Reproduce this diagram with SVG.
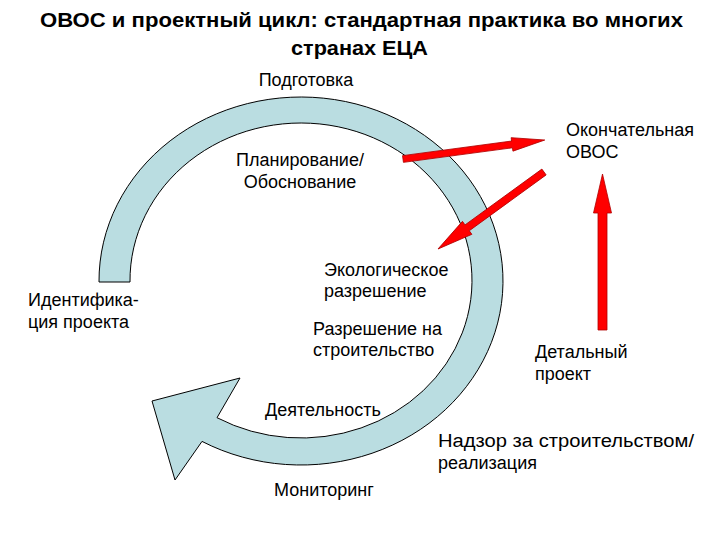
<svg xmlns="http://www.w3.org/2000/svg" width="720" height="540" viewBox="0 0 720 540">
<style>
.t{font-family:"Liberation Sans",Arial,sans-serif;font-size:18px;fill:#000}
.title{font-family:"Liberation Sans",Arial,sans-serif;font-size:20px;font-weight:bold;fill:#000;text-anchor:middle}
.ring{fill:#BADDE1;stroke:#000;stroke-width:1}
.red{fill:#FF0000;stroke:#B00000;stroke-width:0.8}
</style>
<rect width="720" height="540" fill="#FFFFFF"/>
<g id="title">
<text class="title" x="361.5" y="27" textLength="643" lengthAdjust="spacingAndGlyphs">ОВОС и проектный цикл: стандартная практика во многих</text>
<text class="title" x="359.5" y="55" textLength="137" lengthAdjust="spacingAndGlyphs">странах ЕЦА</text>
</g>
<g id="cycle">
<path class="ring" d="M99,282 A202,184 0 1 1 202,441.4 L175,480 L152,401 L240,378 L217,417.7 A171,157.5 0 1 0 130,282 Z"/>
</g>
<g id="connectors">
<path class="red" transform="translate(403,159) rotate(-7.62)" d="M0,-3.4 L110,-3.4 L110,-6.8 L143,0 L110,6.8 L110,3.4 L0,3.4 Z"/>
<path class="red" transform="translate(544,172) rotate(144)" d="M0,-3.6 L95,-3.6 L95,-8 L131,0 L95,8 L95,3.6 L0,3.6 Z"/>
<path class="red" transform="translate(602.5,330) rotate(-90)" d="M0,-4.5 L117,-4.5 L117,-9 L156,0 L117,9 L117,4.5 L0,4.5 Z"/>
</g>
<g id="n-podgotovka"><text class="t" x="306" y="86" text-anchor="middle">Подготовка</text></g>
<g id="n-planirovanie">
<text class="t" x="300" y="166" text-anchor="middle">Планирование/</text>
<text class="t" x="300" y="188" text-anchor="middle">Обоснование</text>
</g>
<g id="n-okonch">
<text class="t" x="566" y="136">Окончательная</text>
<text class="t" x="566" y="158">ОВОС</text>
</g>
<g id="n-ekolog">
<text class="t" x="324" y="276">Экологическое</text>
<text class="t" x="324" y="297">разрешение</text>
</g>
<g id="n-ident">
<text class="t" x="28" y="306">Идентифика-</text>
<text class="t" x="28" y="328">ция проекта</text>
</g>
<g id="n-razresh">
<text class="t" x="313" y="335">Разрешение на</text>
<text class="t" x="313" y="356">строительство</text>
</g>
<g id="n-detal">
<text class="t" x="535" y="358">Детальный</text>
<text class="t" x="535" y="380">проект</text>
</g>
<g id="n-deyat"><text class="t" x="265" y="416">Деятельность</text></g>
<g id="n-nadzor">
<text class="t" x="438" y="447" textLength="256" lengthAdjust="spacingAndGlyphs">Надзор за строительством/</text>
<text class="t" x="438" y="469">реализация</text>
</g>
<g id="n-monitor"><text class="t" x="274" y="496">Мониторинг</text></g>
</svg>
